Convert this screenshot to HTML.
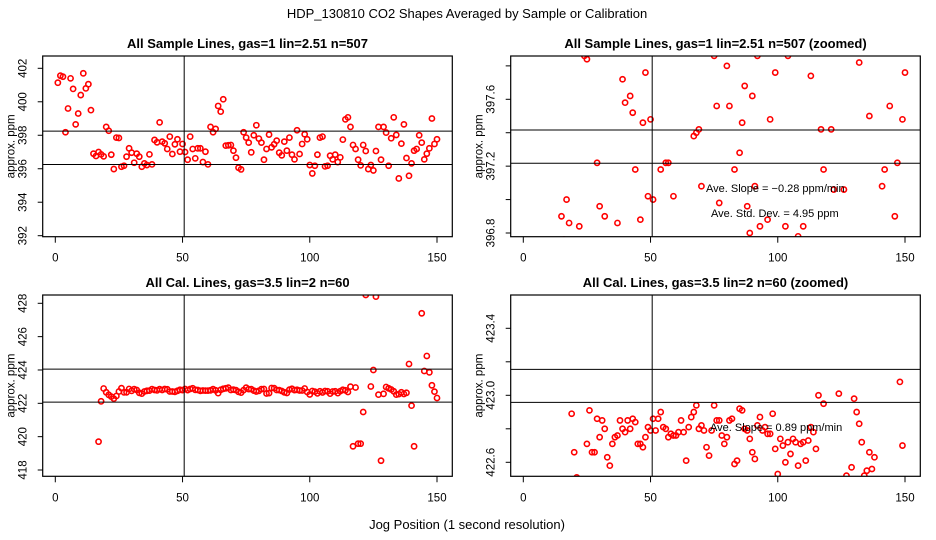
<!DOCTYPE html>
<html><head><meta charset="utf-8">
<style>
html,body{margin:0;padding:0;background:#fff;overflow:hidden;width:936px;height:540px;}
svg{display:block;font-family:"Liberation Sans",sans-serif;}
</style></head>
<body>
<svg id="chart" width="936" height="540" viewBox="0 0 936 540" xmlns="http://www.w3.org/2000/svg">
<rect x="0" y="0" width="936" height="540" fill="#fff"/>
<text x="467" y="18" font-size="13" text-anchor="middle">HDP_130810  CO2 Shapes Averaged by Sample or Calibration</text>
<text x="467" y="529" font-size="13" text-anchor="middle">Jog Position (1 second resolution)</text>
</svg>
<script>
// Sample lines data (x = jog position, y = ppm)
const sampleX = [];
for (let i = 1; i <= 150; i++) sampleX.push(i);
const sampleY = [401.14,401.56,401.5,398.18,399.6,401.4,400.77,398.65,399.3,400.4,
401.7,400.8,401.05,399.5,396.9,396.76,397.0,396.86,396.74,398.5,
398.27,396.84,395.98,397.86,397.84,396.12,396.18,396.72,397.22,396.96,
396.36,396.9,396.72,396.12,396.32,396.22,396.86,396.26,397.72,397.58,
398.77,397.62,397.52,397.18,397.92,396.88,397.46,397.76,397.02,397.48,
397.0,396.54,397.92,397.18,396.62,397.22,397.22,396.4,397.02,396.26,
398.5,398.18,398.38,399.75,399.41,400.15,397.38,397.4,397.42,397.08,
396.66,396.06,395.96,398.18,397.86,397.56,396.98,398.0,398.6,397.8,
397.56,396.54,397.18,398.04,397.28,397.46,397.68,396.96,396.8,397.62,
397.08,397.86,396.84,396.56,398.3,396.88,397.48,398.06,397.76,396.22,
395.72,396.18,396.84,397.86,397.92,396.14,396.18,396.78,396.56,396.84,
396.4,396.68,397.74,398.95,399.07,398.5,397.42,397.18,396.54,396.2,
397.42,397.06,395.98,396.22,395.9,397.06,398.5,396.54,398.5,398.16,
396.18,397.82,399.07,398.02,395.42,397.5,398.65,396.64,395.58,396.32,
397.08,397.18,398.0,397.56,396.56,396.9,397.22,399.0,397.48,397.76];

// Calibration lines data
const calX = [17,18,19,20,21,22,23,24,25,26,27,28,29,30,31,32,33,34,35,36,37,38,39,40,
41,42,43,44,45,46,47,48,49,50,51,52,53,54,55,56,57,58,59,60,61,62,63,64,65,66,67,68,69,70,
71,72,73,74,75,76,77,78,79,80,81,82,83,84,85,86,87,88,89,90,91,92,93,94,95,96,97,98,99,100,
101,102,103,104,105,106,107,108,109,110,111,112,113,114,115,116,117,118,119,120,121,122,124,125,
126,127,128,129,130,131,132,133,134,135,136,137,138,139,140,141,144,145,146,147,148,149,150];
const calY = [419.7,422.12,422.89,422.66,422.51,422.4,422.28,422.44,422.71,422.91,422.66,422.66,422.86,422.75,422.85,422.8,422.63,422.58,422.71,422.75,422.76,422.85,422.8,422.78,
422.85,422.8,422.86,422.84,422.71,422.71,422.69,422.75,422.81,422.79,422.86,422.79,422.86,422.9,422.81,422.8,422.75,422.77,422.76,422.76,422.78,422.85,422.78,422.61,422.81,422.87,422.9,422.94,422.8,422.82,
422.79,422.69,422.64,422.79,422.94,422.85,422.85,422.76,422.71,422.75,422.85,422.86,422.59,422.61,422.92,422.91,422.8,422.79,422.74,422.66,422.62,422.82,422.87,422.79,422.81,422.77,422.77,422.89,422.68,422.53,
422.74,422.7,422.6,422.72,422.65,422.74,422.72,422.58,422.71,422.72,422.61,422.73,422.81,422.78,422.68,423.0,419.42,422.95,419.58,419.58,421.48,428.5,423.01,424.0,
428.4,422.52,418.56,422.57,422.98,422.9,422.83,422.72,422.52,422.55,422.66,422.56,422.63,424.36,421.86,419.42,427.4,423.94,424.84,423.86,423.08,422.7,422.32];

// Tick values
const xTicks = [0,50,100,150];
const tlYTicks = [392,394,396,398,400,402];
const trYTicks = [396.8,397.0,397.2,397.4,397.6,397.8];
const trYLabels = ["396.8","","397.2","","397.6",""];
const blYTicks = [418,420,422,424,426,428];
const brYTicks = [422.6,422.8,423.0,423.2,423.4];
const brYLabels = ["422.6","","423.0","","423.4"];
const tlHLines = [398.25,396.25];
const trHLines = [397.416,397.217];
const blHLines = [424.05,422.07];
const brHLines = [423.155,422.958];
const vLineX = 50.65;

const svg = document.getElementById('chart');
const NS = 'http://www.w3.org/2000/svg';
function mk(tag, attrs, parent){
  const e = document.createElementNS(NS, tag);
  for (const k in attrs) e.setAttribute(k, attrs[k]);
  (parent||svg).appendChild(e);
  return e;
}

function panel(p){
  const g = mk('g', {});
  
  
  const xs = v => p.x0 + (v - 0) * (p.x150 - p.x0) / 150;
  const ys = v => p.ya + (v - p.va) * (p.yb - p.ya) / (p.vb - p.va);
  const [L,T,R,B] = p.box;
  const cid = 'clip-' + p.name;
  const cp = mk('clipPath', {id: cid}, g);
  mk('rect', {x:L, y:T, width:R-L, height:B-T}, cp);

  const title = mk('text', {x:(L+R)/2, y:T-8, 'font-size':13, 'font-weight':'bold', 'text-anchor':'middle'}, g);
  
  
  title.textContent = p.title;

  const pts = mk('g', {'clip-path':'url(#'+cid+')'}, g);
  
  
  for (let i = 0; i < p.xd.length; i++){
    if (p.yd[i] == null) continue;
    const c = mk('circle', {cx: xs(p.xd[i]), cy: ys(p.yd[i]), r: 2.6, fill:'none', stroke:'#f00', 'stroke-width':1.6}, pts);
    
    
  }
  p.hl.forEach(v => {
    const l = mk('line', {x1:L, x2:R, y1:ys(v), y2:ys(v), stroke:'#000', 'stroke-width':1}, g);
    
    
  });
  const vl = mk('line', {x1:xs(vLineX), x2:xs(vLineX), y1:T, y2:B, stroke:'#000', 'stroke-width':1}, g);
  
  

  const box = mk('rect', {x:L, y:T, width:R-L, height:B-T, fill:'none', stroke:'#000', 'stroke-width':1.2}, g);
  
  

  xTicks.forEach(v => {
    mk('line', {x1:xs(v), x2:xs(v), y1:B, y2:B+6, stroke:'#000', 'stroke-width':1}, g);
    const t = mk('text', {x:xs(v), y:B+25, 'font-size':11.5, 'text-anchor':'middle'}, g);
    
    
    t.textContent = v;
  });
  p.yt.forEach((v,i) => {
    const y = ys(v);
    mk('line', {x1:L-5, x2:L, y1:y, y2:y, stroke:'#000', 'stroke-width':1}, g);
    const lab = p.yl ? p.yl[i] : String(v);
    if (!lab) return;
    const t = mk('text', {x:0, y:0, 'font-size':11.5, 'text-anchor':'middle', transform:'translate('+(L-16)+','+y+') rotate(-90)'}, g);
    
    
    t.textContent = lab;
  });
  const yt = mk('text', {x:0, y:0, 'font-size':11.5, 'text-anchor':'middle', transform:'translate('+(L-28)+','+((T+B)/2)+') rotate(-90)'}, g);
  
  
  yt.textContent = 'approx. ppm';
  (p.notes||[]).forEach(n => {
    const t = mk('text', {x:n[0], y:n[1], 'font-size':11, 'text-anchor':'start'}, g);
    
    
    t.textContent = n[2];
  });
}

panel({name:'panel-samples', title:'All Sample Lines, gas=1 lin=2.51 n=507', box:[42.7,56,452.3,236.7],
  x0:55.3, x150:437, va:392, ya:235.7, vb:402, yb:68.3, xd:sampleX, yd:sampleY, yt:tlYTicks, hl:tlHLines});
panel({name:'panel-samples-zoomed', title:'All Sample Lines, gas=1 lin=2.51 n=507 (zoomed)', box:[510.7,56,920.3,236.7],
  x0:523.3, x150:905, va:396.8, ya:233, vb:397.6, yb:99.3, xd:sampleX, yd:sampleY, yt:trYTicks, yl:trYLabels, hl:trHLines,
  notes:[[706,192,'Ave. Slope =  \u22120.28  ppm/min'],[711,217,'Ave. Std. Dev. =  4.95  ppm']]});
panel({name:'panel-cal', title:'All Cal. Lines, gas=3.5 lin=2 n=60', box:[42.7,295,452.3,476.3],
  x0:55.3, x150:437, va:418, ya:470, vb:428, yb:303.3, xd:calX, yd:calY, yt:blYTicks, hl:blHLines});
panel({name:'panel-cal-zoomed', title:'All Cal. Lines, gas=3.5 lin=2 n=60 (zoomed)', box:[510.7,295,920.3,476.3],
  x0:523.3, x150:905, va:422.6, ya:462.3, vb:423.4, yb:328.3, xd:calX, yd:calY, yt:brYTicks, yl:brYLabels, hl:brHLines,
  notes:[[710,431,'Ave. Slope =  0.89  ppm/min']]});
</script>
</body></html>
